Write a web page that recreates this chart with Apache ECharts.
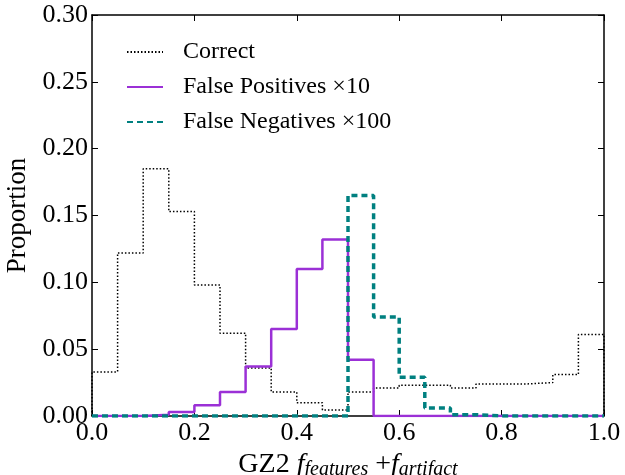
<!DOCTYPE html>
<html>
<head>
<meta charset="utf-8">
<script src="https://cdn.jsdelivr.net/npm/echarts@6/dist/echarts.min.js"></script>
<style>
  body { margin: 0; background: #fff; }
  #chart { width: 625px; height: 475px; }
</style>
</head>
<body>
<div id="chart"></div>
<script>
// histogram bins, width 0.05
const binEdges = [0.00, 0.05, 0.10, 0.15, 0.20, 0.25, 0.30, 0.35, 0.40, 0.45,
                  0.50, 0.55, 0.60, 0.65, 0.70, 0.75, 0.80, 0.85, 0.90, 0.95, 1.00];
const correct = [0.033, 0.122, 0.185, 0.153, 0.098, 0.062, 0.036, 0.018, 0.010, 0.0045,
                 0.018, 0.021, 0.023, 0.023, 0.021, 0.024, 0.024, 0.025, 0.031, 0.061];
const falsePos = [0, 0, 0.001, 0.003, 0.008, 0.018, 0.037, 0.065, 0.110, 0.132,
                  0.042, 0, 0, 0, 0, 0, 0, 0, 0, 0];
const falseNeg = [0, 0, 0, 0, 0, 0, 0, 0, 0, 0,
                  0.165, 0.074, 0.029, 0.006, 0.001, 0, 0, 0, 0, 0];
const xTicks = [0.0, 0.2, 0.4, 0.6, 0.8, 1.0];
const yTicks = [0.00, 0.05, 0.10, 0.15, 0.20, 0.25, 0.30];

// turn bin heights into step outline points
function stepPoints(vals) {
  const pts = [[binEdges[0], 0]];
  vals.forEach((v, i) => pts.push([binEdges[i], v]));
  pts.push([binEdges[binEdges.length - 1], vals[vals.length - 1]]);
  pts.push([binEdges[binEdges.length - 1], 0]);
  return pts;
}

const font = 'Liberation Serif';
const chart = echarts.init(document.getElementById('chart'));

const baseX = {
  type: 'value', min: 0, max: 1, interval: 0.2,
  axisLine: { show: true, onZero: false, lineStyle: { color: '#000', width: 1.5 } },
  axisTick: { show: true, inside: true, length: 6, lineStyle: { color: '#000', width: 1 } },
  splitLine: { show: false }
};
const baseY = {
  type: 'value', min: 0, max: 0.30, interval: 0.05,
  axisLine: { show: true, onZero: false, lineStyle: { color: '#000', width: 1.5 } },
  axisTick: { show: true, inside: true, length: 6, lineStyle: { color: '#000', width: 1 } },
  splitLine: { show: false }
};

chart.setOption({
  animation: false,
  grid: { left: 92, right: 21, top: 15, bottom: 59, outerBoundsMode: 'none' },
  legend: {
    orient: 'vertical',
    left: 121, top: 35,
    itemWidth: 36, itemHeight: 14, itemGap: 11,
    itemStyle: { opacity: 0 },
    textStyle: { fontFamily: font, fontSize: 24, color: '#000', padding: [0, 0, 0, 15] },
    data: ['Correct', 'False Positives ×10', 'False Negatives ×100']
  },
  xAxis: [
    Object.assign({}, baseX, {
      position: 'bottom',
      name: '{n|GZ2 }{f|f}{s|features}{n| +}{f|f}{s|artifact}',
      nameLocation: 'middle', nameGap: 31,
      nameTextStyle: {
        rich: {
          n: { fontFamily: font, fontSize: 28, color: '#000' },
          f: { fontFamily: font, fontSize: 28, fontStyle: 'italic', color: '#000' },
          s: { fontFamily: font, fontSize: 20, fontStyle: 'italic', color: '#000', padding: [10, 0, 0, 0] }
        }
      },
      axisLabel: {
        fontFamily: font, fontSize: 26, color: '#000', margin: 4,
        formatter: v => xTicks.includes(Math.round(v * 10) / 10) ? v.toFixed(1) : ''
      }
    }),
    Object.assign({}, baseX, { position: 'top', axisLabel: { show: false } })
  ],
  yAxis: [
    Object.assign({}, baseY, {
      position: 'left',
      name: 'Proportion', nameLocation: 'middle', nameGap: 46, nameRotate: 90,
      nameTextStyle: { fontFamily: font, fontSize: 27, color: '#000' },
      axisLabel: {
        fontFamily: font, fontSize: 26, color: '#000', margin: 4,
        formatter: v => v.toFixed(2)
      }
    }),
    Object.assign({}, baseY, { position: 'right', axisLabel: { show: false } })
  ],
  series: [
    {
      name: 'Correct', type: 'line', step: 'end', symbol: 'none',
      data: stepPoints(correct),
      lineStyle: { color: '#000', width: 1.5, type: [1.5, 2] },
      itemStyle: { color: '#000' }
    },
    {
      name: 'False Positives ×10', type: 'line', step: 'end', symbol: 'none',
      data: stepPoints(falsePos),
      lineStyle: { color: '#9b30d6', width: 2.5 },
      itemStyle: { color: '#9b30d6' }
    },
    {
      name: 'False Negatives ×100', type: 'line', step: 'end', symbol: 'none',
      data: stepPoints(falseNeg),
      lineStyle: { color: '#008080', width: 3.5, type: [6, 4] },
      itemStyle: { color: '#008080' }
    }
  ]
});
</script>
</body>
</html>
